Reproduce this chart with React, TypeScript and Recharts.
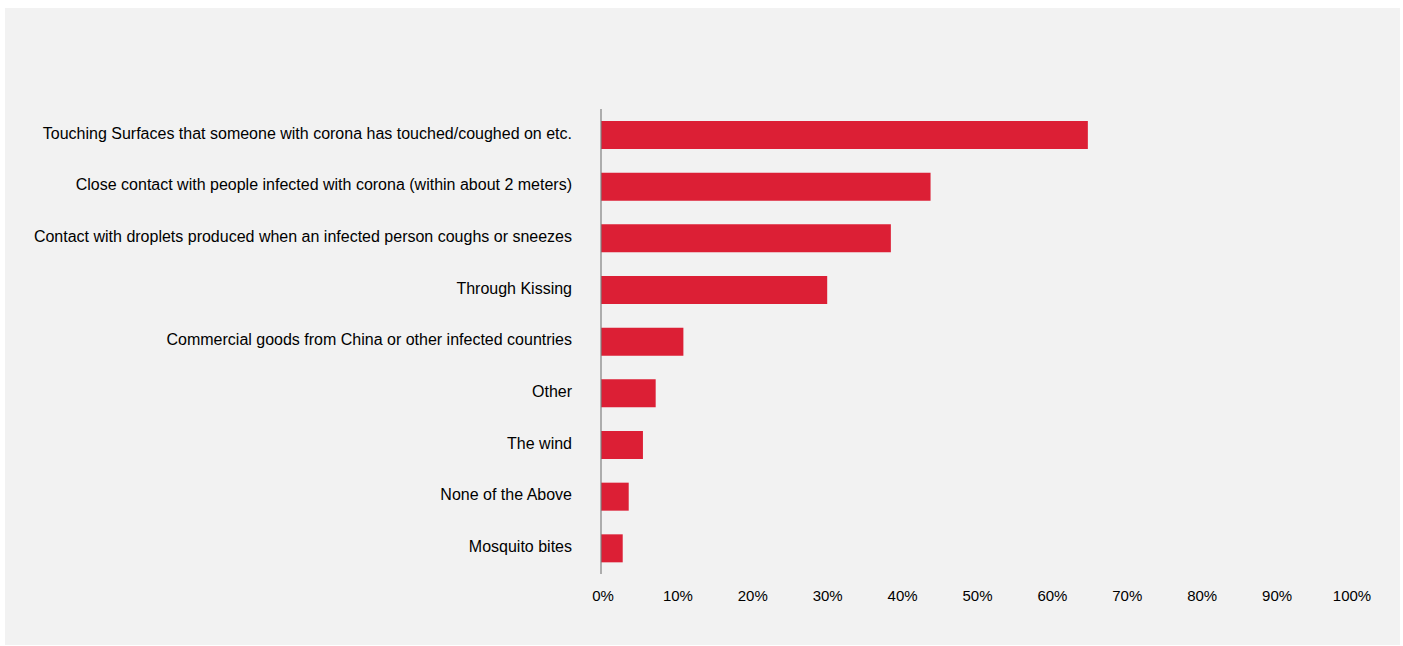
import { BarChart, Bar, XAxis, YAxis } from 'recharts'

const categories = [
  'Touching Surfaces that someone with corona has touched/coughed on etc.',
  'Close contact with people infected with corona (within about 2 meters)',
  'Contact with droplets produced when an infected person coughs or sneezes',
  'Through Kissing',
  'Commercial goods from China or other infected countries',
  'Other',
  'The wind',
  'None of the Above',
  'Mosquito bites',
]

const shares = [65.0, 44.0, 38.7, 30.2, 11.0, 7.3, 5.6, 3.7, 2.9]

const xTicks = [0, 10, 20, 30, 40, 50, 60, 70, 80, 90, 100]

const data = categories.map((name, i) => ({ name, value: shares[i] }))

const font = 'Arial, "Liberation Sans", sans-serif'

export default function App() {
  return (
    <div
      style={{
        position: 'absolute',
        left: 5,
        top: 8,
        width: 1395,
        height: 637,
        background: '#f2f2f2',
        fontFamily: font,
      }}
    >
      <BarChart
        width={1395}
        height={637}
        data={data}
        layout="vertical"
        margin={{ top: 101, right: 50, bottom: 41, left: 0 }}
      >
        <XAxis
          type="number"
          domain={[0, 100]}
          ticks={xTicks}
          tickFormatter={(v: number) => `${v}%`}
          axisLine={false}
          tickLine={false}
          tickSize={0}
          tickMargin={16}
          height={30}
          tick={{ fontSize: 15, fill: '#000', fontFamily: font, dx: 2 }}
          interval={0}
        />
        <YAxis
          type="category"
          dataKey="name"
          width={596}
          axisLine={{ stroke: '#7f7f7f', strokeWidth: 1.2 }}
          tickLine={false}
          tickSize={0}
          tickMargin={29}
          interval={0}
          tick={{ fontSize: 16, fill: '#000', fontFamily: font, dy: -2 }}
        />
        <Bar dataKey="value" fill="#dc1f35" barSize={28} isAnimationActive={false} />
      </BarChart>
    </div>
  )
}
